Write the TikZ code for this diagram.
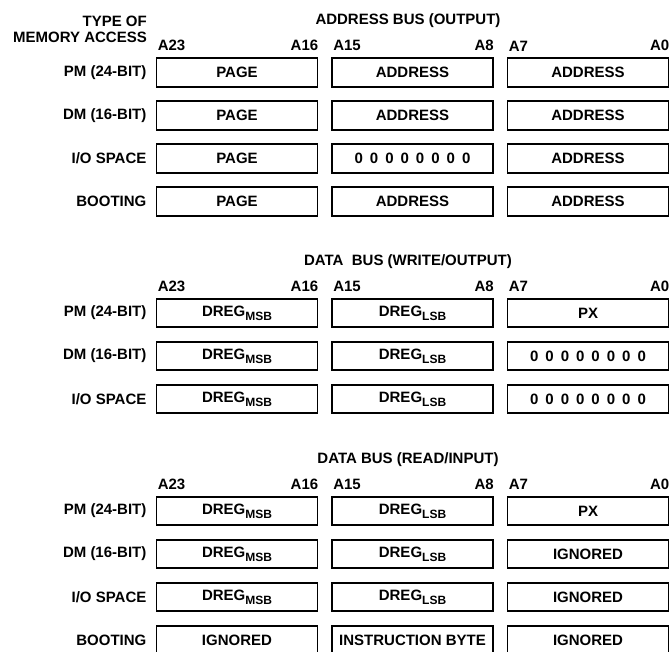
\documentclass[tikz,border=0pt]{standalone}
\usepackage{fontspec}
\setmainfont{Liberation Sans}
\usetikzlibrary{positioning}

\newcommand{\msb}{DREG\raisebox{-4pt}{\fontsize{12}{12}\selectfont MSB}}
\newcommand{\lsb}{DREG\raisebox{-4pt}{\fontsize{12}{12}\selectfont LSB}}
\newcommand{\zerobyte}{{\spaceskip=7pt\relax 0 0 0 0 0 0 0 0}}

\begin{document}
\begin{tikzpicture}[x=1pt, y=1pt, node distance=12.6pt and 12.6pt,
        font=\fontsize{15}{16}\selectfont\bfseries,
        field/.style={rectangle, draw, line width=1.9pt, minimum width=161pt, minimum height=28.5pt, inner sep=0pt, text centered},
        kind/.style={inner sep=0pt},
        bit/.style={inner sep=0pt}]

        \useasboundingbox (0,0) rectangle (669,-652);

        % address bus
        \node[kind] (abus) at (408,-21) {ADDRESS BUS (OUTPUT)};
        \node[kind, align=right, anchor=east] (access) at (147,-29) {TYPE OF\\MEMORY ACCESS};

        \node[field] (apm1) at (237,-72.5) {PAGE};
        \node[field, right=of apm1] (apm2) {ADDRESS};
        \node[field, right=of apm2] (apm3) {ADDRESS};
        \node[field, below=of apm1] (adm1) {PAGE};
        \node[field, right=of adm1] (adm2) {ADDRESS};
        \node[field, right=of adm2] (adm3) {ADDRESS};
        \node[field, below=of adm1] (aio1) {PAGE};
        \node[field, right=of aio1] (aio2) {\zerobyte};
        \node[field, right=of aio2] (aio3) {ADDRESS};
        \node[field, below=of aio1] (aboot1) {PAGE};
        \node[field, right=of aboot1] (aboot2) {ADDRESS};
        \node[field, right=of aboot2] (aboot3) {ADDRESS};

        \node[kind, left=9pt of apm1] (apm) {PM (24-BIT)};
        \node[kind, left=9pt of adm1] (adm) {DM (16-BIT)};
        \node[kind, left=9pt of aio1] (aio) {I/O SPACE};
        \node[kind, left=9pt of aboot1] (aboot) {BOOTING};

        \node[bit, above right=6pt and 2pt of apm1.north west] (aa23) {A23};
        \node[bit, above left=6pt and 0pt of apm1.north east] (aa16) {A16};
        \node[bit, above right=6pt and 2pt of apm2.north west] (aa15) {A15};
        \node[bit, above left=6pt and 0pt of apm2.north east] (aa8) {A8};
        \node[bit, above right=6pt and 2pt of apm3.north west] (aa7) {A7};
        \node[bit, above left=6pt and 0pt of apm3.north east] (aa0) {A0};

        % data bus, write
        \node[kind] (wbus) at (408,-262) {DATA~ BUS (WRITE/OUTPUT)};

        \node[field] (wpm1) at (237,-313) {\msb};
        \node[field, right=of wpm1] (wpm2) {\lsb};
        \node[field, right=of wpm2] (wpm3) {PX};
        \node[field, below=of wpm1] (wdm1) {\msb};
        \node[field, right=of wdm1] (wdm2) {\lsb};
        \node[field, right=of wdm2] (wdm3) {\zerobyte};
        \node[field, below=of wdm1] (wio1) {\msb};
        \node[field, right=of wio1] (wio2) {\lsb};
        \node[field, right=of wio2] (wio3) {\zerobyte};

        \node[kind, left=9pt of wpm1] (wpm) {PM (24-BIT)};
        \node[kind, left=9pt of wdm1] (wdm) {DM (16-BIT)};
        \node[kind, left=9pt of wio1] (wio) {I/O SPACE};

        \node[bit, above right=6pt and 2pt of wpm1.north west] (wa23) {A23};
        \node[bit, above left=6pt and 0pt of wpm1.north east] (wa16) {A16};
        \node[bit, above right=6pt and 2pt of wpm2.north west] (wa15) {A15};
        \node[bit, above left=6pt and 0pt of wpm2.north east] (wa8) {A8};
        \node[bit, above right=6pt and 2pt of wpm3.north west] (wa7) {A7};
        \node[bit, above left=6pt and 0pt of wpm3.north east] (wa0) {A0};

        % data bus, read
        \node[kind] (rbus) at (408,-460) {DATA BUS (READ/INPUT)};

        \node[field] (rpm1) at (237,-511) {\msb};
        \node[field, right=of rpm1] (rpm2) {\lsb};
        \node[field, right=of rpm2] (rpm3) {PX};
        \node[field, below=of rpm1] (rdm1) {\msb};
        \node[field, right=of rdm1] (rdm2) {\lsb};
        \node[field, right=of rdm2] (rdm3) {IGNORED};
        \node[field, below=of rdm1] (rio1) {\msb};
        \node[field, right=of rio1] (rio2) {\lsb};
        \node[field, right=of rio2] (rio3) {IGNORED};
        \node[field, below=of rio1] (rboot1) {IGNORED};
        \node[field, right=of rboot1] (rboot2) {INSTRUCTION BYTE};
        \node[field, right=of rboot2] (rboot3) {IGNORED};

        \node[kind, left=9pt of rpm1] (rpm) {PM (24-BIT)};
        \node[kind, left=9pt of rdm1] (rdm) {DM (16-BIT)};
        \node[kind, left=9pt of rio1] (rio) {I/O SPACE};
        \node[kind, left=9pt of rboot1] (rboot) {BOOTING};

        \node[bit, above right=6pt and 2pt of rpm1.north west] (ra23) {A23};
        \node[bit, above left=6pt and 0pt of rpm1.north east] (ra16) {A16};
        \node[bit, above right=6pt and 2pt of rpm2.north west] (ra15) {A15};
        \node[bit, above left=6pt and 0pt of rpm2.north east] (ra8) {A8};
        \node[bit, above right=6pt and 2pt of rpm3.north west] (ra7) {A7};
        \node[bit, above left=6pt and 0pt of rpm3.north east] (ra0) {A0};
    \end{tikzpicture}
\end{document}
